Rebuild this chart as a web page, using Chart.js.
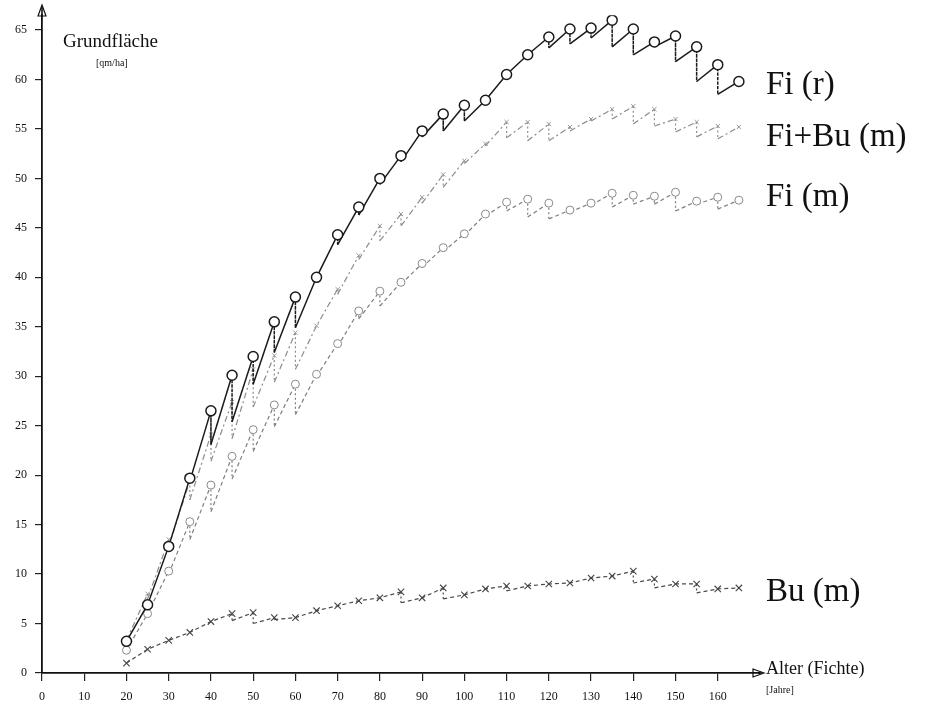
<!DOCTYPE html>
<html>
<head>
<meta charset="utf-8">
<script src="https://cdn.jsdelivr.net/npm/chart.js@4.4.1/dist/chart.umd.min.js"></script>
<style>
  html, body { margin: 0; padding: 0; background: #ffffff; }
  #wrap { width: 929px; height: 708px; position: relative; }
</style>
</head>
<body>
<div id="wrap"><canvas id="c" width="929" height="708"></canvas></div>
<script>
// ---- Data ----
const ages = [20,25,30,35,40,45,50,55,60,65,70,75,80,85,90,95,100,105,110,115,120,125,130,135,140,145,150,155,160,165];

// value before thinning (marked) and after thinning (same age)
const fiR_before  = [3.2,6.9,12.8,19.7,26.5,30.1,32.0,35.5,38.0,40.0,44.3,47.1,50.0,52.3,54.8,56.5,57.4,57.9,60.5,62.5,64.3,65.1,65.2,66.0,65.1,63.8,64.4,63.3,61.5,59.8];
const fiR_after   = [3.2,6.9,12.8,19.4,23.1,25.4,29.2,32.4,34.9,40.0,43.3,46.3,49.4,51.7,54.2,54.8,55.8,57.9,60.5,62.5,63.2,63.6,64.2,63.3,62.5,63.3,61.8,59.8,58.5,59.3];

const fiBu_before = [3.3,8.0,13.5,19.4,24.1,27.4,30.7,32.1,34.4,35.1,38.8,42.2,45.2,46.4,48.1,50.4,51.8,53.5,55.7,55.7,55.5,55.2,56.0,57.0,57.3,57.0,56.0,55.7,55.3,55.2];
const fiBu_after  = [3.3,7.5,12.8,17.5,21.4,23.7,26.9,29.4,30.7,35.1,38.3,41.8,43.7,45.2,47.5,49.1,51.5,53.3,54.1,53.8,53.8,54.8,55.8,56.0,55.5,55.3,54.7,54.2,54.0,55.2];

const fiM_before  = [2.3,6.0,10.3,15.3,19.0,21.9,24.6,27.1,29.2,30.2,33.3,36.6,38.6,39.5,41.4,43.0,44.4,46.4,47.6,47.9,47.5,46.8,47.5,48.5,48.3,48.2,48.6,47.7,48.1,47.8];
const fiM_after   = [2.3,6.0,10.0,13.5,16.3,19.6,22.4,24.9,26.1,30.0,33.0,35.8,37.1,39.3,41.0,42.6,44.2,46.2,46.7,46.1,45.9,46.6,47.3,47.1,47.4,47.4,46.7,47.4,46.9,47.8];

const bu_before   = [1.0,2.4,3.3,4.1,5.2,6.0,6.1,5.6,5.6,6.3,6.8,7.3,7.6,8.2,7.6,8.6,7.9,8.5,8.8,8.8,9.0,9.1,9.6,9.8,10.3,9.5,9.0,9.0,8.5,8.6];
const bu_after    = [1.0,2.4,3.3,4.1,5.2,5.3,5.0,5.4,5.6,6.3,6.8,7.3,7.6,7.1,7.6,7.5,7.9,8.5,8.3,8.8,9.0,9.1,9.6,9.8,9.1,8.6,9.0,8.1,8.5,8.6];

const seriesNames = ["Fi (r)", "Fi+Bu (m)", "Fi (m)", "Bu (m)"];
const xTicks = [0,10,20,30,40,50,60,70,80,90,100,110,120,130,140,150,160];
const yTicks = [0,5,10,15,20,25,30,35,40,45,50,55,60,65];
const yTitle = "Grundfläche", yUnit = "[qm/ha]";
const xTitle = "Alter (Fichte)", xUnit = "[Jahre]";

// ---- build sawtooth point lists ----
function sawtooth(before, after) {
  const pts = [];
  ages.forEach((a, i) => {
    pts.push({x: a, y: before[i], m: true});
    if (after[i] !== before[i]) pts.push({x: a, y: after[i], m: false});
  });
  return pts;
}
const SERIF = "'Liberation Serif', 'DejaVu Serif', serif";
const dropDash = ctx => ctx.p0.parsed.x === ctx.p1.parsed.x ? [2, 2.5] : undefined;
const markR = r => ctx => (ctx.raw && ctx.raw.m) ? r : 0;

const labelPos = [58.5, 53.3, 47.2, 7.3]; // label baselines (y units)

const overlay = {
  id: 'overlay',
  afterDraw(chart) {
    const {ctx, chartArea: ca, scales} = chart;
    const x0 = ca.left, y0 = ca.bottom;
    ctx.save();
    ctx.strokeStyle = '#111'; ctx.lineWidth = 1.6; ctx.fillStyle = '#111';
    // y arrow
    ctx.beginPath(); ctx.moveTo(x0, ca.top + 2); ctx.lineTo(x0, 6); ctx.stroke();
    ctx.beginPath(); ctx.moveTo(x0 - 4, 16); ctx.lineTo(x0, 5); ctx.lineTo(x0 + 4, 16); ctx.closePath(); ctx.lineWidth = 1.2; ctx.stroke();
    // x arrow
    ctx.lineWidth = 1.6;
    ctx.beginPath(); ctx.moveTo(ca.right - 2, y0); ctx.lineTo(762, y0); ctx.stroke();
    ctx.beginPath(); ctx.moveTo(753, y0 - 4); ctx.lineTo(764, y0); ctx.lineTo(753, y0 + 4); ctx.closePath(); ctx.lineWidth = 1.2; ctx.stroke();
    // titles
    ctx.fillStyle = '#111';
    ctx.textAlign = 'left'; ctx.textBaseline = 'alphabetic';
    ctx.font = '19px ' + SERIF; ctx.fillText(yTitle, 63, 47);
    ctx.font = '10px ' + SERIF; ctx.fillText(yUnit, 96, 66);
    ctx.font = '18px ' + SERIF; ctx.fillText(xTitle, 766, 674);
    ctx.font = '10px ' + SERIF; ctx.fillText(xUnit, 766, 693);
    // series labels
    ctx.font = '33px ' + SERIF;
    seriesNames.forEach((n, i) => {
      ctx.fillText(n, 766, scales.y.getPixelForValue(labelPos[i]));
    });
    ctx.restore();
  }
};

new Chart(document.getElementById('c'), {
  type: 'line',
  data: {
    datasets: [
      {
        label: seriesNames[0], data: sawtooth(fiR_before, fiR_after),
        borderColor: '#1a1a1a', borderWidth: 1.5,
        pointStyle: 'circle', pointRadius: markR(5), pointBorderColor: '#1a1a1a',
        pointBackgroundColor: '#ffffff', pointBorderWidth: 1.5,
        segment: { borderDash: dropDash }
      },
      {
        label: seriesNames[1], data: sawtooth(fiBu_before, fiBu_after),
        borderColor: '#8c8c8c', borderWidth: 1.2, borderDash: [6, 3, 2, 3],
        pointStyle: 'crossRot', pointRadius: markR(3), pointBorderColor: '#999',
        pointBorderWidth: 1,
        segment: { borderDash: dropDash }
      },
      {
        label: seriesNames[2], data: sawtooth(fiM_before, fiM_after),
        borderColor: '#7d7d7d', borderWidth: 1.2, borderDash: [4, 3],
        pointStyle: 'circle', pointRadius: markR(4), pointBorderColor: '#8a8a8a',
        pointBackgroundColor: '#ffffff', pointBorderWidth: 1,
        segment: { borderDash: dropDash }
      },
      {
        label: seriesNames[3], data: sawtooth(bu_before, bu_after),
        borderColor: '#4a4a4a', borderWidth: 1.2, borderDash: [4, 3],
        pointStyle: 'crossRot', pointRadius: markR(4.5), pointBorderColor: '#444',
        pointBorderWidth: 1.1,
        segment: { borderDash: dropDash }
      }
    ]
  },
  options: {
    responsive: false,
    animation: false,
    layout: { padding: { top: 10, right: 169, left: 0, bottom: 0 } },
    plugins: { legend: { display: false }, tooltip: { enabled: false } },
    elements: { line: { tension: 0 } },
    scales: {
      x: {
        type: 'linear', min: 0, max: 170,
        afterFit: s => { s.height = 35; },
        afterBuildTicks: s => { s.ticks = xTicks.map(v => ({value: v})); },
        grid: { display: true, drawOnChartArea: false, tickLength: 8, color: '#222', lineWidth: 1.2 },
        border: { display: true, color: '#111', width: 1.8 },
        ticks: { padding: 9, color: '#111', font: { family: SERIF, size: 12 }, maxRotation: 0, autoSkip: false }
      },
      y: {
        type: 'linear', min: 0, max: 66.5,
        afterFit: s => { s.width = 42; },
        afterBuildTicks: s => { s.ticks = yTicks.map(v => ({value: v})); },
        grid: { display: true, drawOnChartArea: false, tickLength: 7, color: '#222', lineWidth: 1.2 },
        border: { display: true, color: '#111', width: 1.8 },
        ticks: { padding: 8, color: '#111', font: { family: SERIF, size: 12 }, autoSkip: false }
      }
    }
  },
  plugins: [overlay]
});
</script>
</body>
</html>
